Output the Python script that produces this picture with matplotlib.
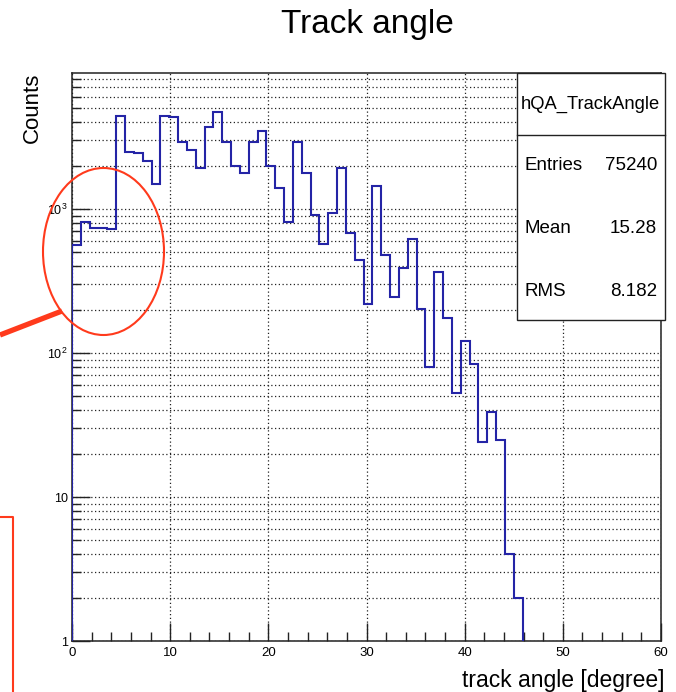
import numpy as np
import matplotlib
matplotlib.use("Agg")
import matplotlib.pyplot as plt
from matplotlib.patches import Ellipse, Rectangle
from matplotlib.ticker import FixedLocator, FixedFormatter

plt.rcParams['font.family'] = ['Liberation Sans', 'DejaVu Sans']
plt.rcParams['mathtext.fontset'] = 'custom'
plt.rcParams['mathtext.rm'] = 'Liberation Sans'

# histogram content (0.9 degree bins starting at 0)
bin_width = 0.9
counts = [562, 809, 741, 741, 723, 4446, 2500, 2437, 2154, 1484,
          4446, 4333, 2933, 2557, 1918, 3730, 4695, 2933, 1990, 1770,
          2933, 3497, 1990, 1392, 809, 2933, 1770, 908, 571, 945,
          1918, 678, 442, 219, 1452, 477, 246, 387, 616, 202,
          80, 367, 176, 53, 122, 84, 24, 39, 25, 4, 2]
edges = np.arange(len(counts) + 1) * bin_width

title = "Track angle"
hist_name = "hQA_TrackAngle"
stats_names = ["Entries", "Mean", "RMS"]
stats_values = ["75240", "15.28", "8.182"]

x_major = [0, 10, 20, 30, 40, 50, 60]
y_major = [1, 10, 100, 1000]
y_major_labels = ["1", "10", r"$\mathrm{10^{2}}$", r"$\mathrm{10^{3}}$"]

W, H = 676, 692
fig = plt.figure(figsize=(W / 100, H / 100), dpi=100)

# main frame in pixel terms
L, R, T, B = 72, 661, 73, 641
ax = fig.add_axes([L / W, 1 - B / H, (R - L) / W, (B - T) / H])

ax.stairs(counts, edges, baseline=1, color='#2424a6', linewidth=1.5, zorder=3)

ax.set_yscale('log')
ax.set_xlim(0, 60)
ax.set_ylim(1, 8800)

ax.xaxis.set_major_locator(FixedLocator(x_major))
ax.xaxis.set_minor_locator(FixedLocator(np.arange(0, 61, 2)))
ax.set_xticklabels([str(v) for v in x_major])

minor_y = [m * 10 ** d for d in range(4) for m in range(2, 10) if m * 10 ** d < 8800]
ax.yaxis.set_major_locator(FixedLocator(y_major))
ax.yaxis.set_major_formatter(FixedFormatter(y_major_labels))
ax.yaxis.set_minor_locator(FixedLocator(minor_y))
ax.yaxis.set_minor_formatter(FixedFormatter([''] * len(minor_y)))

ax.tick_params(which='major', direction='in', length=13, width=1.0,
               labelsize=9.5, pad=4, color='#222222')
ax.tick_params(which='minor', direction='in', length=6.5, width=1.0,
               color='#222222')
ax.tick_params(axis='y', which='major', pad=3, labelsize=9)

ax.grid(True, which='major', axis='x', linestyle=(0, (1, 2)), color='#222222', linewidth=0.9)
ax.grid(True, which='both', axis='y', linestyle=(0, (1, 2)), color='#222222', linewidth=0.9)
ax.set_axisbelow(True)

for s in ax.spines.values():
    s.set_linewidth(1.1)
    s.set_color('#222222')

# overlay for texts, stats box and red annotations (pixel coords)
ov = fig.add_axes([0, 0, 1, 1])
ov.set_xlim(0, W)
ov.set_ylim(H, 0)
ov.axis('off')
ov.set_zorder(5)
ov.patch.set_alpha(0)

ov.text(367, 25, title, fontsize=24, ha='center', va='center')
ov.text(32, 73, "Counts", fontsize=16, rotation=90, ha='center', va='top')
ov.text(665, 680, "track angle [degree]", fontsize=16.5, ha='right', va='center')

# stats box
ov.add_patch(Rectangle((517, 73), 148, 247, facecolor='white',
                       edgecolor='#222222', linewidth=1.0))
ov.plot([517, 665], [135, 135], color='#222222', linewidth=1.0)
ov.text(590, 104, hist_name, fontsize=13.2, ha='center', va='center')
for i, (n, v) in enumerate(zip(stats_names, stats_values)):
    y = 166 + i * 62.5
    ov.text(524, y, n, fontsize=13.5, ha='left', va='center')
    ov.text(657, y, v, fontsize=13.5, ha='right', va='center')

# red annotations
red = '#ff3a1c'
ov.add_patch(Ellipse((103.5, 251.5), 121, 167, fill=False, edgecolor=red, linewidth=1.5))
ov.plot([0, 62], [335, 311], color=red, linewidth=3.8, solid_capstyle='butt')
ov.plot([-5, 13, 13], [517, 517, 700], color=red, linewidth=1.5)

fig.savefig("out.png", dpi=100)
